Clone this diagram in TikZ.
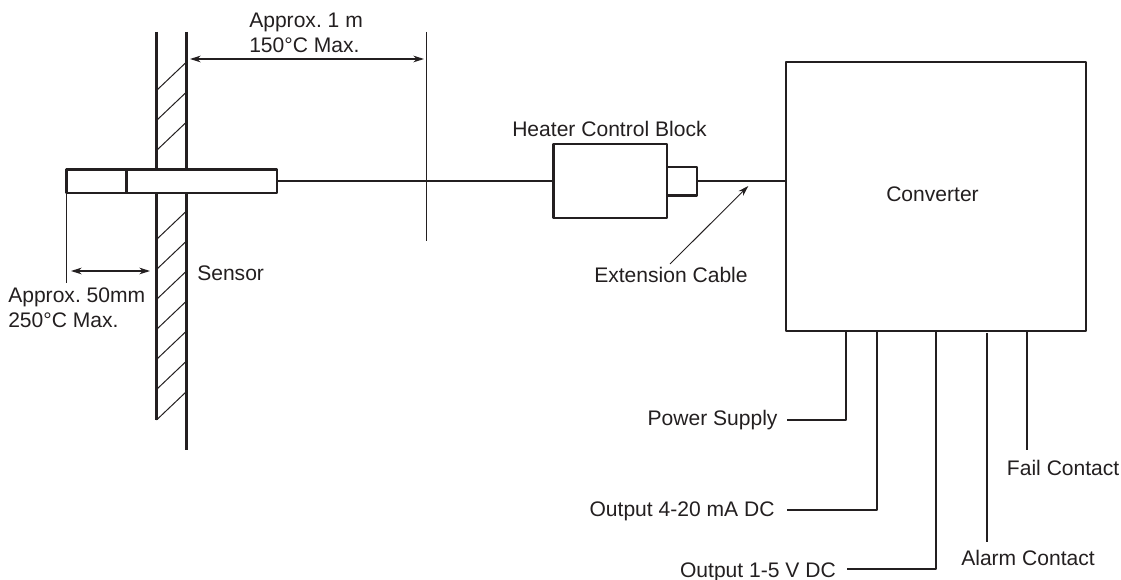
\documentclass[tikz,border=0pt]{standalone}
\usepackage{fontspec}
\setmainfont{Liberation Sans}
\usetikzlibrary{arrows.meta}
\definecolor{ink}{HTML}{231F20}
\tikzset{
  x=0.75pt,y=-0.75pt,
  heavy/.style={draw=ink,line width=1.55pt,line join=round},
  thin line/.style={draw=ink,line width=0.85pt},
  hatch/.style={draw=ink,line width=0.75pt},
  dim/.style={draw=ink,line width=0.85pt,{Stealth[length=8pt,width=5pt]}-{Stealth[length=8pt,width=5pt]}},
  lead/.style={draw=ink,line width=0.7pt,-{Stealth[length=8pt,width=5pt]}},
  lbl/.style={anchor=base west,inner sep=0pt,text=ink,font=\fontsize{15.8pt}{18pt}\selectfont\frenchspacing},
  box/.style={heavy,anchor=north west,inner sep=0pt,outer sep=0pt,fill=white},
}
\begin{document}
\begin{tikzpicture}
\useasboundingbox (0,0) rectangle (1121,580);
% wall
\draw[heavy] (156.5,32) -- (156.5,420);
\draw[heavy] (186.5,32) -- (186.5,450);
\foreach \b in {90.5,120.5,150.5,239.5,269.5,299.5,329.5,359.5,389.5,420}
  \draw[hatch] (156.5,\b) -- (186,\b-28);
% blocks
\node[box,minimum width=210.5*0.75pt,minimum height=23.5*0.75pt] (sensor) at (66.5,169.5) {};
\draw[heavy] (126.5,169.5) -- (126.5,193);
\node[box,minimum width=113.5*0.75pt,minimum height=74*0.75pt] (heater) at (553.5,144.3) {};
\node[box,minimum width=30*0.75pt,minimum height=28.5*0.75pt] (plug) at (666.7,167) {};
\node[box,minimum width=300*0.75pt,minimum height=269*0.75pt] (conv) at (786,62) {};
% cables
\draw[heavy] (sensor.east) -- (sensor.east -| heater.west);
\draw[heavy] (plug.east) -- (plug.east -| conv.west);
% limits
\coordinate (limT) at (426.3,32); \coordinate (limB) at (426.3,241);
\draw[thin line] (limT) -- (limB);
\coordinate (tipT) at (66.5,193); \coordinate (tipB) at (66.5,283);
\draw[thin line] (tipT) -- (tipB);
\coordinate (d1a) at (190,59); \coordinate (d1b) at (424,59);
\draw[dim] (d1a) -- (d1b);
\coordinate (d2a) at (71,271); \coordinate (d2b) at (150,271);
\draw[dim] (d2a) -- (d2b);
% labels
\node[lbl] (l1) at (249,27.4) {Approx. 1 m};
\node[lbl] (l2) at (249,52.4) {150°C Max.};
\node[lbl] (l3) at (197,280.4) {Sensor};
\node[lbl] (l4) at (8,303) {Approx. 50mm};
\node[lbl] (l5) at (8,328) {250°C Max.};
\node[lbl] (l6) at (512,137) {Heater Control Block};
\node[lbl] (l7) at (594,283) {Extension Cable};
\node[lbl] (l8) at (886,201.4) {Converter};
\node[lbl] (l9) at (647.3,425.4) {Power Supply};
\node[lbl] (l10) at (589.3,516.4) {Output 4-20 mA DC};
\node[lbl] (l11) at (679.8,577.6) {Output 1-5 V DC};
\node[lbl] (l12) at (961,565.4) {Alarm Contact};
\node[lbl] (l13) at (1006.7,475.4) {Fail Contact};
% extension cable leader
\coordinate (extA) at (670,264); \coordinate (extB) at (748.3,186);
\draw[lead] (extA) -- (extB);
% converter connections
\coordinate (pA) at (846.3,331); \coordinate (pB) at (786.7,420);
\draw[heavy] (pA) |- (pB);
\coordinate (oA) at (876.7,331); \coordinate (oB) at (786.7,510);
\draw[heavy] (oA) |- (oB);
\coordinate (vA) at (936,331); \coordinate (vB) at (846.7,569);
\draw[heavy] (vA) |- (vB);
\coordinate (aA) at (987.3,333); \coordinate (aB) at (987.3,541.7);
\draw[heavy] (aA) -- (aB);
\coordinate (fA) at (1026.7,331); \coordinate (fB) at (1026.7,450);
\draw[heavy] (fA) -- (fB);
\end{tikzpicture}
\end{document}
